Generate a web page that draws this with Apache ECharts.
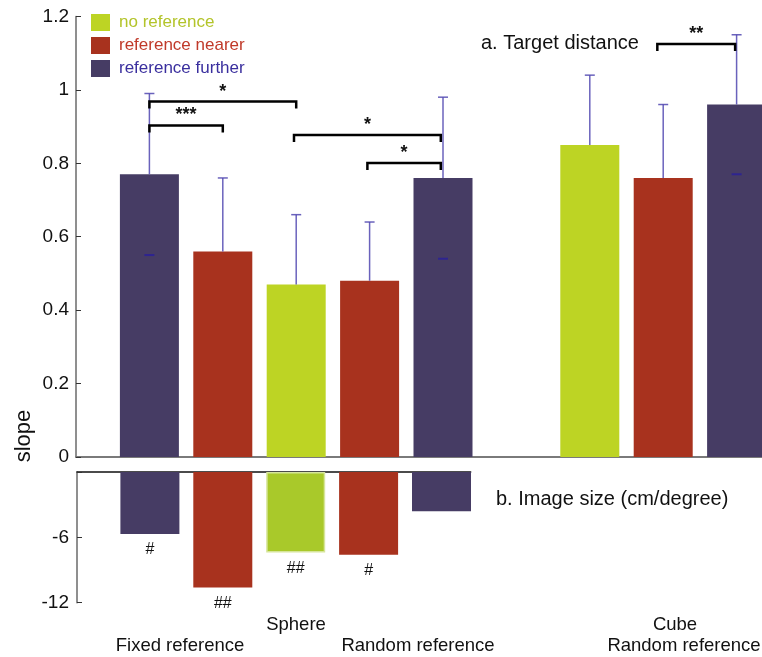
<!DOCTYPE html>
<html>
<head>
<meta charset="utf-8">
<script src="https://cdn.jsdelivr.net/npm/echarts@6/dist/echarts.min.js"></script>
<style>
  html, body { margin: 0; padding: 0; background: #fff; }
  #chart { width: 762px; height: 657px; }
</style>
</head>
<body>
<div id="chart"></div>
<script>
// condition names and colours
const legendNames = ['no reference', 'reference nearer', 'reference further'];
const barColors = ['#bdd424', '#a8321e', '#463c64'];
const legendTextColors = ['#b3c42a', '#c03a2a', '#3a2f9e'];

// a. target distance (slope), bar slots 1..9 with slot 6 empty
const positions = [1, 2, 3, 4, 5, 7, 8, 9];
const conditionIdx = [2, 1, 0, 1, 2, 0, 1, 2];
const slope = [0.77, 0.56, 0.47, 0.48, 0.76, 0.85, 0.76, 0.96];
const slopeErr = [0.22, 0.20, 0.19, 0.16, 0.22, 0.19, 0.20, 0.19];

// b. image size (cm/degree), sphere bars only
const imageSize = [-5.7, -10.6, -7.4, -7.6, -3.6];
const imageMarks = ['#', '##', '##', '#', ''];

// significance brackets: [from, to, height, stars]
const brackets = [
  [1.0, 3.0, 0.968, '*'],
  [1.0, 2.0, 0.903, '***'],
  [2.97, 4.97, 0.877, '*'],
  [3.97, 4.97, 0.801, '*'],
  [7.92, 8.98, 1.125, '**']
];

const font = 'Liberation Sans, Arial, sans-serif';

const chart = echarts.init(document.getElementById('chart'));

// one bar series per condition on each panel
const series = [];
legendNames.forEach((name, c) => {
  series.push({
    name: name,
    type: 'bar',
    xAxisIndex: 0,
    yAxisIndex: 0,
    barWidth: 59,
    barGap: '-100%',
    itemStyle: { color: barColors[c] },
    data: positions.map((p, i) => conditionIdx[i] === c ? [p, slope[i]] : null).filter(d => d),
    z: 3
  });
  series.push({
    name: name,
    type: 'bar',
    xAxisIndex: 1,
    yAxisIndex: 1,
    barWidth: 59,
    barGap: '-100%',
    itemStyle: c === 0 ? { color: '#a9c92a', borderColor: '#d6e59a', borderWidth: 1.5 } : { color: barColors[c] },
    label: {
      show: true,
      position: 'bottom',
      distance: 8,
      color: '#111',
      fontFamily: font,
      fontSize: 16,
      formatter: p => imageMarks[p.data[2]]
    },
    data: imageSize.map((v, i) => conditionIdx[i] === c ? [positions[i], v, i] : null).filter(d => d),
    z: 3
  });
});

// error bars (upper whisker, lower cap where it shows)
series.push({
  type: 'custom',
  xAxisIndex: 0,
  yAxisIndex: 0,
  z: 5,
  data: positions.map((p, i) => [p, slope[i], slopeErr[i], conditionIdx[i]]),
  renderItem: (params, api) => {
    const x = api.value(0), y = api.value(1), e = api.value(2), c = api.value(3);
    const top = api.coord([x, y]);
    const hi = api.coord([x, y + e]);
    const lo = api.coord([x, y - e]);
    const style = { stroke: '#5046b0', lineWidth: 1.5, opacity: 0.85 };
    const kids = [
      { type: 'line', shape: { x1: top[0], y1: top[1], x2: hi[0], y2: hi[1] }, style: style },
      { type: 'line', shape: { x1: hi[0] - 5, y1: hi[1], x2: hi[0] + 5, y2: hi[1] }, style: style }
    ];
    if (c === 2) {
      kids.push({ type: 'line', shape: { x1: lo[0] - 5, y1: lo[1], x2: lo[0] + 5, y2: lo[1] },
        style: { stroke: '#2e2490', lineWidth: 2 } });
    }
    return { type: 'group', children: kids };
  }
});

// significance brackets
series.push({
  type: 'custom',
  xAxisIndex: 0,
  yAxisIndex: 0,
  z: 6,
  data: brackets.map(b => [b[0], b[1], b[2], b[3]]),
  renderItem: (params, api) => {
    const b = brackets[params.dataIndex];
    const a = api.coord([b[0], b[2]]);
    const d = api.coord([b[1], b[2]]);
    const drop = 7;
    return {
      type: 'group',
      children: [
        { type: 'polyline', shape: { points: [[a[0], a[1] + drop], [a[0], a[1]], [d[0], d[1]], [d[0], d[1] + drop]] },
          style: { stroke: '#000', lineWidth: 2.5, fill: null } },
        { type: 'text', x: (a[0] + d[0]) / 2, y: a[1] - 1,
          style: { text: b[3], fill: '#111', font: 'bold 18px ' + font, align: 'center', verticalAlign: 'bottom' } }
      ]
    };
  }
});

const textItem = (txt, x, y, size, align) => ({
  type: 'text', x: x, y: y,
  style: { text: txt, fill: '#111', font: size + 'px ' + font, align: align || 'center', verticalAlign: 'middle' }
});

chart.setOption({
  animation: false,
  legend: {
    left: 91,
    top: 14,
    orient: 'vertical',
    icon: 'rect',
    itemWidth: 19,
    itemHeight: 17,
    itemGap: 6,
    padding: 0,
    textStyle: { fontFamily: font, fontSize: 17, padding: [0, 0, 0, 4] },
    data: legendNames.map((n, i) => ({ name: n, textStyle: { color: legendTextColors[i] } }))
  },
  grid: [
    { left: 76, width: 686, top: 16.4, height: 440.6 },
    { left: 77, width: 393.7, top: 472, height: 130.7 }
  ],
  xAxis: [
    {
      gridIndex: 0, type: 'value', min: 0, max: 686 / 73.4,
      axisLine: { show: true, onZero: false, lineStyle: { color: '#7a7a7a', width: 2 } },
      axisTick: { show: false }, axisLabel: { show: false }, splitLine: { show: false }
    },
    {
      gridIndex: 1, type: 'value', min: 0, max: 393.7 / 72.9, position: 'top',
      axisLine: { show: true, onZero: false, lineStyle: { color: '#111', width: 1.5 } },
      axisTick: { show: false }, axisLabel: { show: false }, splitLine: { show: false }
    }
  ],
  yAxis: [
    {
      gridIndex: 0, type: 'value', min: 0, max: 1.2, interval: 0.2,
      axisLine: { show: true, lineStyle: { color: '#6a6a6a', width: 1.5 } },
      axisTick: { show: true, inside: true, length: 5, lineStyle: { color: '#333' } },
      axisLabel: { color: '#111', fontFamily: font, fontSize: 19, margin: 7 },
      splitLine: { show: false }
    },
    {
      gridIndex: 1, type: 'value', min: -12, max: 0, interval: 6,
      axisLine: { show: true, lineStyle: { color: '#6a6a6a', width: 1.5 } },
      axisTick: { show: true, inside: true, length: 5, lineStyle: { color: '#333' } },
      axisLabel: { color: '#111', fontFamily: font, fontSize: 19, margin: 8,
        formatter: v => v === 0 ? '' : String(v) },
      splitLine: { show: false }
    }
  ],
  graphic: [
    textItem('a. Target distance', 481, 43, 20, 'left'),
    textItem('b. Image size (cm/degree)', 496, 499, 20, 'left'),
    textItem('Sphere', 296, 625, 18.5),
    textItem('Fixed reference', 180, 646, 18.5),
    textItem('Random reference', 418, 646, 18.5),
    textItem('Cube', 675, 625, 18.5),
    textItem('Random reference', 684, 646, 18.5),
    {
      type: 'text', x: 24, y: 436, rotation: Math.PI / 2,
      style: { text: 'slope', fill: '#111', font: '22px ' + font, align: 'center', verticalAlign: 'middle' }
    }
  ],
  series: series
});
</script>
</body>
</html>
